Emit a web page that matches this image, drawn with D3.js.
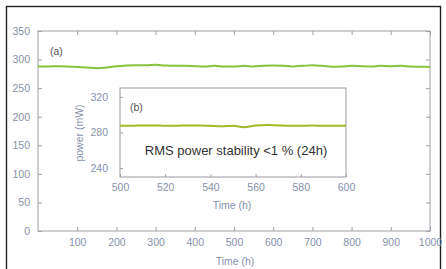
<!DOCTYPE html>
<html><head><meta charset="utf-8">
<script src="https://cdn.jsdelivr.net/npm/d3@7"></script>
<style>body{margin:0;background:#fff}svg{display:block}text{font-family:"Liberation Sans",Arial,sans-serif}</style>
</head><body><svg id="c" width="446" height="269"></svg>
<script>
// ---- data ----
const mainTime = [0,25,50,75,100,125,150,175,200,225,250,275,300,325,350,375,400,425,450,475,500,525,550,575,600,625,650,675,700,725,750,775,800,825,850,875,900,925,950,975,1000];
const mainPower = [288,288,288.5,288,287,286,285,286,288.5,289.5,290,290,291,289.5,289,289,288.5,288,289,288,288,289,288,289,289.5,289,288,289,290,289,287.5,288,289,288.5,288,289,288.5,289,288,287.5,287];
const insetTime = [500,505,510,515,520,525,530,535,540,545,550,555,560,565,570,575,580,585,590,595,600];
const insetPower = [287.5,287.5,288,288,287.5,287.5,288,288,287.5,287,287.5,286,288,288.5,288,287.5,287.5,287.8,287.5,287.5,287.5];
const mainXTicks = [100,200,300,400,500,600,700,800,900,1000];
const mainYTicks = [0,50,100,150,200,250,300,350];
const insetXTicks = [500,520,540,560,580,600];
const insetYTicks = [240,280,320];
const xLabel = "Time (h)";
const yLabelInset = "power (mW)";
const annotation = "RMS power stability <1 % (24h)";

const svg = d3.select("#c");
const tickCol = "#8691ab", axCol = "#a0a0a8";
const fmt = d3.format("d");

// outer frame
svg.append("rect").attr("x",6.5).attr("y",6.5).attr("width",434).attr("height",280)
  .attr("fill","none").attr("stroke","#222").attr("stroke-width",1.4);

// main axes
const x = d3.scaleLinear().domain([0,1000]).range([38,430]);
const y = d3.scaleLinear().domain([0,350]).range([231,31]);
svg.append("rect").attr("x",x(0)).attr("y",y(350)).attr("width",x(1000)-x(0)).attr("height",y(0)-y(350))
  .attr("fill","none").attr("stroke",axCol).attr("stroke-width",1);
function style(g){g.select(".domain").remove();g.selectAll("line").attr("stroke",axCol);
  g.selectAll("text").attr("fill",tickCol).attr("font-size",10.5);}
svg.append("g").attr("transform",`translate(0,${y(0)})`).call(d3.axisBottom(x).tickValues(mainXTicks).tickFormat(fmt).tickSizeInner(-4).tickPadding(8)).call(style);
svg.append("g").attr("transform",`translate(0,${y(350)})`).call(d3.axisTop(x).tickValues(mainXTicks).tickSizeInner(-4).tickFormat("")).call(style);
svg.append("g").attr("transform",`translate(${x(0)},0)`).call(d3.axisLeft(y).tickValues(mainYTicks).tickFormat(fmt).tickSizeInner(-4).tickPadding(8)).call(style);
svg.append("g").attr("transform",`translate(${x(1000)},0)`).call(d3.axisRight(y).tickValues(mainYTicks).tickSizeInner(-4).tickFormat("")).call(style);

svg.append("path").datum(mainTime.map((t,i)=>[t,mainPower[i]]))
  .attr("d",d3.line().x(d=>x(d[0])).y(d=>y(d[1])).curve(d3.curveMonotoneX))
  .attr("fill","none").attr("stroke","#86c23a").attr("stroke-width",2);

svg.append("text").attr("x",50).attr("y",55).attr("font-size",10.5).attr("fill","#555").text("(a)");
svg.append("text").attr("x",235).attr("y",265).attr("text-anchor","middle").attr("font-size",10.5).attr("fill",tickCol).text(xLabel);

// inset
const xi = d3.scaleLinear().domain([500,600]).range([120,346]);
const yi = d3.scaleLinear().domain([230,330]).range([177,88]);
svg.append("rect").attr("x",xi(500)).attr("y",yi(330)).attr("width",xi(600)-xi(500)).attr("height",yi(230)-yi(330))
  .attr("fill","#fff").attr("stroke","#9a9aa2").attr("stroke-width",1);
svg.append("g").attr("transform",`translate(0,${yi(230)})`).call(d3.axisBottom(xi).tickValues(insetXTicks).tickFormat(fmt).tickSizeInner(-3).tickPadding(7)).call(style);
svg.append("g").attr("transform",`translate(${xi(500)},0)`).call(d3.axisLeft(yi).tickValues(insetYTicks).tickFormat(fmt).tickSizeInner(-3).tickPadding(12)).call(style);
svg.append("path").datum(insetTime.map((t,i)=>[t,insetPower[i]]))
  .attr("d",d3.line().x(d=>xi(d[0])).y(d=>yi(d[1])).curve(d3.curveMonotoneX))
  .attr("fill","none").attr("stroke","#a3b826").attr("stroke-width",2);
svg.append("text").attr("x",130).attr("y",111).attr("font-size",10.5).attr("fill","#555").text("(b)");
svg.append("text").attr("x",236).attr("y",155).attr("text-anchor","middle").attr("font-size",13).attr("fill","#333").text(annotation);
svg.append("text").attr("x",232).attr("y",209).attr("text-anchor","middle").attr("font-size",10.5).attr("fill",tickCol).text(xLabel);
svg.append("text").attr("transform","translate(83,133) rotate(-90)").attr("text-anchor","middle").attr("font-size",10.5).attr("fill",tickCol).text(yLabelInset);
</script></body></html>
